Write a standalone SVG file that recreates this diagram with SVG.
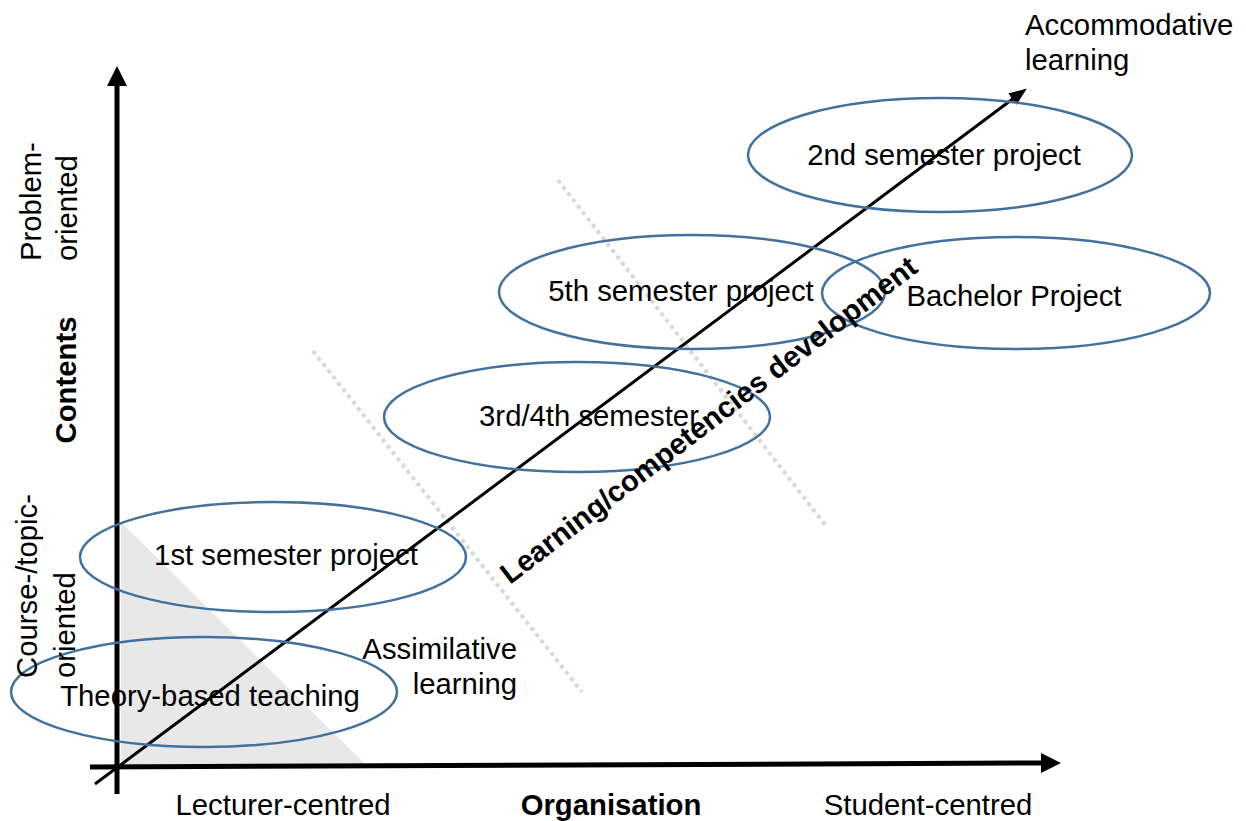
<svg xmlns="http://www.w3.org/2000/svg" width="1246" height="821" viewBox="0 0 1246 821">
  <style>
    .lbl { font-family: "Liberation Sans", Arial, sans-serif; font-size: 29.3px; fill: #000; }
    .b { font-weight: bold; }
    .mid { text-anchor: middle; }
    .end { text-anchor: end; }
    .oval { fill: none; stroke: #41719c; stroke-width: 2.5; }
    .axis { stroke: #000; stroke-width: 5; fill: none; }
    .divider { stroke: #d9d9d9; stroke-width: 4; stroke-dasharray: 4 4; fill: none; }
  </style>
  <defs>
    <marker id="bigHead" markerUnits="userSpaceOnUse" markerWidth="20" markerHeight="20" refX="0" refY="10" orient="auto">
      <path d="M0,0 L20,10 L0,20 Z" fill="#000"/>
    </marker>
    <marker id="smallHead" markerUnits="userSpaceOnUse" markerWidth="18" markerHeight="14" refX="2" refY="7" orient="auto">
      <path d="M0,0 L18,7 L0,14 Z" fill="#000"/>
    </marker>
  </defs>

  <!-- shaded lecturer-centred area -->
  <polygon points="121,522 121,765 366,765" fill="#e8e8e8"/>

  <g id="connectors">
    <!-- dotted stage dividers -->
    <line class="divider" x1="313" y1="351" x2="582" y2="692"/>
    <line class="divider" x1="558" y1="180" x2="826" y2="526"/>
    <!-- development diagonal -->
    <line x1="95" y1="784" x2="1014" y2="98" stroke="#000" stroke-width="3" marker-end="url(#smallHead)"/>
    <!-- axes -->
    <line class="axis" x1="117" y1="794" x2="117" y2="86" marker-end="url(#bigHead)"/>
    <line class="axis" x1="90" y1="767" x2="1041" y2="763" marker-end="url(#bigHead)"/>
  </g>

  <g id="theory">
    <ellipse class="oval" cx="204" cy="692" rx="193" ry="55"/>
    <text class="lbl mid" x="210" y="706">Theory-based teaching</text>
  </g>
  <g id="sem1">
    <ellipse class="oval" cx="273" cy="557" rx="193" ry="55"/>
    <text class="lbl mid" x="286" y="565">1st semester project</text>
  </g>
  <g id="sem34">
    <ellipse class="oval" cx="577" cy="417" rx="193" ry="55"/>
    <text class="lbl mid" x="589" y="426">3rd/4th semester</text>
  </g>
  <g id="sem5">
    <ellipse class="oval" cx="692" cy="292" rx="193" ry="57"/>
    <text class="lbl mid" x="681" y="301">5th semester project</text>
  </g>
  <g id="bachelor">
    <ellipse class="oval" cx="1016" cy="293" rx="194" ry="56"/>
    <text class="lbl mid" x="1014" y="306">Bachelor Project</text>
  </g>
  <g id="sem2">
    <ellipse class="oval" cx="940" cy="155" rx="192" ry="57"/>
    <text class="lbl mid" x="944" y="165">2nd semester project</text>
  </g>

  <g id="labels">
    <text class="lbl" x="1025" y="35">Accommodative</text>
    <text class="lbl" x="1025" y="70">learning</text>
    <text class="lbl end" x="517" y="659">Assimilative</text>
    <text class="lbl end" x="517" y="694">learning</text>
    <text class="lbl mid" x="283" y="815">Lecturer-centred</text>
    <text class="lbl b mid" x="611" y="815">Organisation</text>
    <text class="lbl mid" x="928" y="815">Student-centred</text>
    <text class="lbl" transform="translate(41,261) rotate(-90)">Problem-</text>
    <text class="lbl" transform="translate(77,261) rotate(-90)">oriented</text>
    <text class="lbl b mid" transform="translate(76,380) rotate(-90)">Contents</text>
    <text class="lbl" transform="translate(37,678) rotate(-90)">Course-/topic-</text>
    <text class="lbl" transform="translate(75,678) rotate(-90)">oriented</text>
    <text class="lbl b" transform="translate(510,585) rotate(-37.5)">Learning/competencies development</text>
  </g>
</svg>
